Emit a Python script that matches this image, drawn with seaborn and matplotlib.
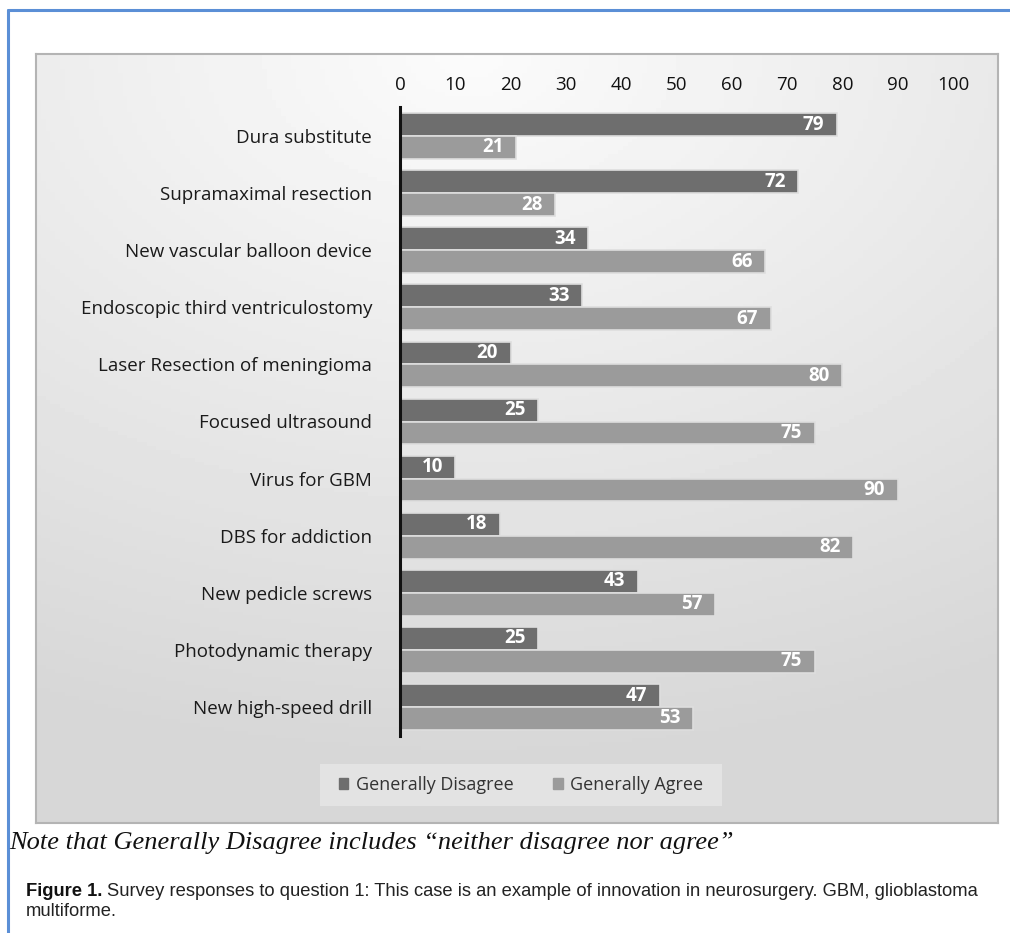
import numpy as np
import pandas as pd
import matplotlib
matplotlib.use("Agg")
import matplotlib.pyplot as plt
import seaborn as sns
from matplotlib.patches import Rectangle
from matplotlib.lines import Line2D

categories = ["Dura substitute", "Supramaximal resection", "New vascular balloon device",
              "Endoscopic third ventriculostomy", "Laser Resection of meningioma",
              "Focused ultrasound", "Virus for GBM", "DBS for addiction",
              "New pedicle screws", "Photodynamic therapy", "New high-speed drill"]
disagree = [79, 72, 34, 33, 20, 25, 10, 18, 43, 25, 47]
agree = [21, 28, 66, 67, 80, 75, 90, 82, 57, 75, 53]
series = ["Generally Disagree", "Generally Agree"]
x_ticks = [0, 10, 20, 30, 40, 50, 60, 70, 80, 90, 100]

df = pd.DataFrame({
    "category": categories * 2,
    "value": disagree + agree,
    "response": [series[0]] * len(categories) + [series[1]] * len(categories),
})

sns.set_theme(style="white")
plt.rcParams['font.family'] = ['Open Sans', 'DejaVu Sans']

W, H = 1010, 933
fig = plt.figure(figsize=(W / 100, H / 100), dpi=100)
fig.patch.set_facecolor("white")

# blue frame lines
fig.add_artist(Line2D([8 / W, 1.0], [1 - 10 / H, 1 - 10 / H], color="#5b8fd6", lw=2.2,
                      transform=fig.transFigure))
fig.add_artist(Line2D([8 / W, 8 / W], [1 - 10 / H, 0], color="#5b8fd6", lw=2.2,
                      transform=fig.transFigure))

# chart panel with gradient background
px0, px1, py0, py1 = 36, 998, 54, 823
bg = fig.add_axes([px0 / W, 1 - py1 / H, (px1 - px0) / W, (py1 - py0) / H], zorder=0)
yy, xx = np.mgrid[0:1:200j, 0:1:200j]
dist = np.sqrt(((xx - 0.45) * 1.0) ** 2 + ((yy - 0.0) * 1.2) ** 2)
grad = 0.985 - 0.13 * np.clip(dist, 0, 1.1)
bg.imshow(grad, cmap="gray", vmin=0, vmax=1, aspect="auto", extent=[0, 1, 1, 0])
bg.set_xticks([]); bg.set_yticks([])
for s in bg.spines.values():
    s.set_color("#b4b4b4"); s.set_linewidth(1.5)

# legend box
lx0, lx1, ly0, ly1 = 320, 722, 764, 806
lbox = fig.add_axes([lx0 / W, 1 - ly1 / H, (lx1 - lx0) / W, (ly1 - ly0) / H], zorder=1)
lbox.set_facecolor("#e3e3e3")
lbox.set_xticks([]); lbox.set_yticks([])
for s in lbox.spines.values():
    s.set_visible(False)

# main axes
ax0, ax1, ay0, ay1 = 400, 953, 107.5, 735.5
ax = fig.add_axes([ax0 / W, 1 - ay1 / H, (ax1 - ax0) / W, (ay1 - ay0) / H], zorder=2)
ax.set_facecolor("none")

colors = ["#6e6e6e", "#9b9b9b"]
sns.barplot(data=df, y="category", x="value", hue="response", hue_order=series,
            palette=colors, orient="h", width=0.8, ax=ax, legend=False,
            edgecolor="#dedede", linewidth=1.2, saturation=1)

for cont in ax.containers:
    labels = ax.bar_label(cont, labels=[f"{v:.0f}" for v in cont.datavalues],
                          label_type="edge", padding=-9, color="white",
                          fontsize=13.5, fontweight="bold")
    for t in labels:
        t.set_ha("right")

ax.set_xlim(0, 100)
ax.set_xticks(x_ticks)
ax.xaxis.tick_top()
ax.tick_params(axis="x", length=0, pad=10, labelsize=13.5, labelcolor="#111111")
ax.tick_params(axis="y", length=0, pad=20, labelsize=13.5, labelcolor="#1a1a1a")
ax.set_xlabel(""); ax.set_ylabel("")
for name, s in ax.spines.items():
    s.set_visible(name == "left")
ax.spines["left"].set_color("#111111")
ax.spines["left"].set_linewidth(2.2)

# legend
handles = [Rectangle((0, 0), 1, 1, color=c) for c in colors]
fig.legend(handles, series, loc="center", bbox_to_anchor=((lx0 + lx1) / 2 / W, 1 - (ly0 + ly1) / 2 / H),
           ncol=2, frameon=False, fontsize=13, handlelength=0.55, handleheight=0.55,
           handletextpad=0.4, columnspacing=2.2, labelcolor="#333333")

# note
fig.text(9 / W, 1 - 843 / H, "Note that Generally Disagree includes \u201cneither disagree nor agree\u201d",
         fontsize=19, family="Liberation Serif", style="italic", va="center", ha="left", color="#111111")

# caption
cap_font = ["Liberation Sans", "DejaVu Sans"]
fig.text(26 / W, 1 - 891 / H, "Figure 1.", fontsize=13.2, fontweight="bold",
         family=cap_font, va="center", ha="left", color="#111111")
fig.text(107 / W, 1 - 891 / H,
         "Survey responses to question 1: This case is an example of innovation in neurosurgery. GBM, glioblastoma",
         fontsize=13.2, family=cap_font, va="center", ha="left", color="#222222")
fig.text(26 / W, 1 - 912 / H, "multiforme.", fontsize=13.2,
         family=cap_font, va="center", ha="left", color="#222222")

fig.savefig("out.png", dpi=100)
